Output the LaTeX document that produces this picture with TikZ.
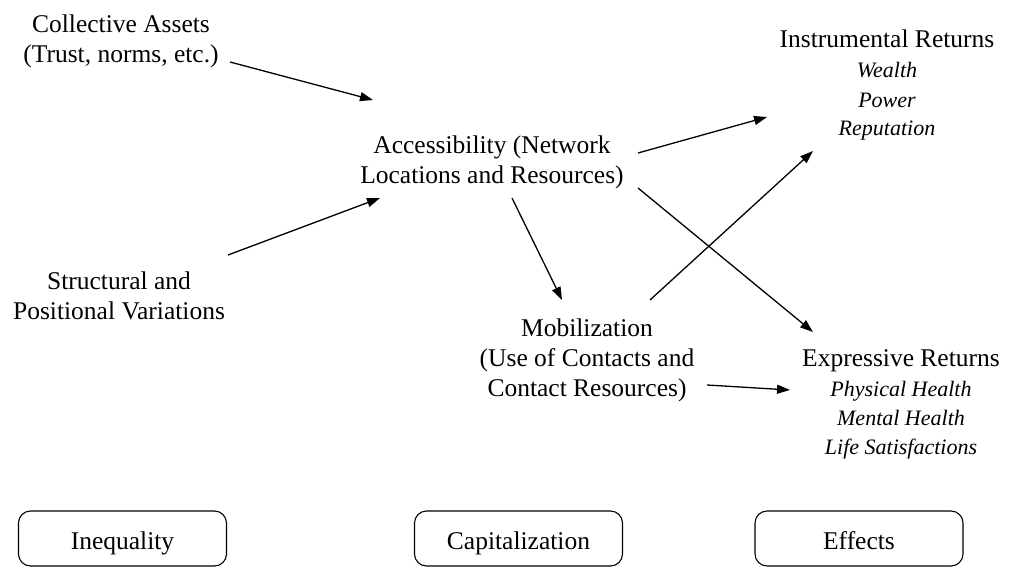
\documentclass[tikz,border=0pt]{standalone}
\usepackage{fontspec}
\setmainfont{Liberation Serif}
\usetikzlibrary{arrows.meta,calc}
\newcommand\retitem[1]{{\fontsize{22}{29}\selectfont\itshape #1}}
\begin{document}
\begin{tikzpicture}[x=1pt,y=-1pt,
 lbl/.style={align=center,inner sep=0pt,font=\fontsize{25.5}{30}\selectfont},
 arr/.style={line width=1.3pt,-{Triangle[length=13pt,width=9pt]}},
 cat/.style={draw,line width=1.1pt,rounded corners=12pt,minimum width=208pt,minimum height=55pt,inner sep=0pt,text height=22pt,text depth=0pt,font=\fontsize{25.5}{30}\selectfont}]
\useasboundingbox (0,0) rectangle (1016,567);
\node[lbl] (ca) at (121,41) {Collective Assets\\(Trust, norms, etc.)};
\node[lbl] (sp) at (119,295.5) {Structural and\\Positional Variations};
\node[lbl] (acc) at (492,162) {Accessibility (Network\\Locations and Resources)};
\node[lbl] (mob) at (587,360) {Mobilization\\(Use of Contacts and\\Contact Resources)};
\node[lbl] (ins) at (887,85) {Instrumental Returns\\\retitem{Wealth}\\\retitem{Power}\\[-2pt]\retitem{Reputation}};
\node[lbl] (exp) at (901,404) {Expressive Returns\\\retitem{Physical Health}\\[-1pt]\retitem{Mental Health}\\[-1pt]\retitem{Life Satisfactions}};
\node[cat] (ineq) at (122.5,538.5) {Inequality};
\node[cat] (capz) at (518.5,538.5) {Capitalization};
\node[cat] (eff) at (859,538.5) {Effects};
\draw[arr] ($(ca)+(109,21)$) -- ($(acc)+(-119,-62)$);
\draw[arr] ($(sp)+(109,-40.5)$) -- ($(acc)+(-112,36)$);
\draw[arr] ($(acc)+(20,36)$) -- ($(mob)+(-25,-60)$);
\draw[arr] ($(acc)+(146,-9)$) -- ($(ins)+(-120,32)$);
\draw[arr] ($(acc)+(146,26)$) -- ($(exp)+(-88,-72)$);
\draw[arr] ($(mob)+(63,-60)$) -- ($(ins)+(-74,66)$);
\draw[arr] ($(mob)+(120,25)$) -- ($(exp)+(-111,-14)$);
\end{tikzpicture}
\end{document}
